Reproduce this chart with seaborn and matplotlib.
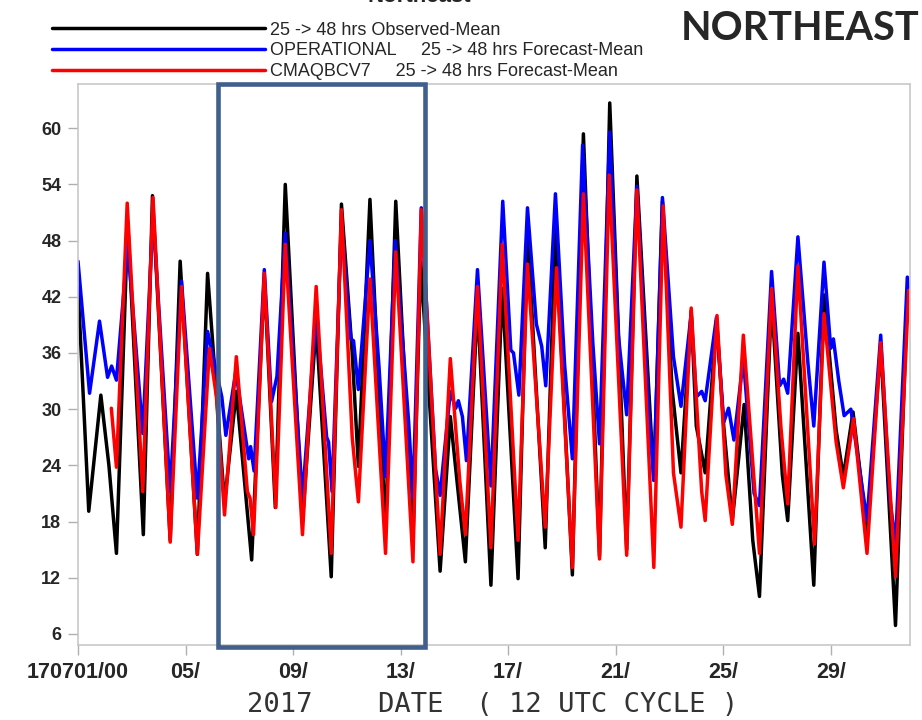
import matplotlib
matplotlib.use("Agg")
import matplotlib.pyplot as plt
from matplotlib.patches import Rectangle
import seaborn as sns

# days since 2017-07-01 00 UTC
obs_day = [0.0, 0.4, 0.85, 1.15, 1.43, 1.85, 2.43, 2.77, 3.43, 3.8, 4.44, 4.82, 5.45, 5.89,
           6.46, 6.93, 7.34, 7.71, 8.35, 8.86, 9.42, 9.8, 10.2, 10.43, 10.86, 11.44, 11.82,
           12.46, 12.75, 13.47, 13.85, 14.41, 14.86, 15.36, 15.78, 16.37, 16.72, 17.38, 17.76,
           18.39, 18.8, 19.4, 19.78, 20.41, 20.79, 21.42, 21.74, 22.1, 22.43, 22.81, 23.0,
           23.33, 23.75, 24.02, 24.34, 24.78, 25.1, 25.35, 25.8, 26.2, 26.4, 26.78, 27.37,
           27.75, 28.2, 28.47, 28.83, 29.35, 29.86, 30.41, 30.85, 30.93]
obs_val = [43.1, 19.1, 31.5, 24.0, 14.6, 49.9, 16.6, 52.8, 16.0, 45.8, 14.5, 44.5, 20.0, 31.9,
           13.9, 44.0, 19.5, 54.0, 18.0, 39.0, 12.1, 51.9, 36.0, 23.9, 52.4, 17.0, 52.2,
           16.0, 45.7, 12.7, 29.2, 13.7, 41.4, 11.2, 42.9, 11.9, 48.8, 15.2, 49.5,
           12.3, 59.4, 14.3, 62.7, 15.0, 54.9, 22.4, 52.2, 32.1, 23.2, 40.5, 28.2,
           23.2, 39.4, 28.2, 18.1, 30.5, 16.0, 10.0, 41.8, 23.0, 18.1, 38.1, 11.2,
           42.2, 27.8, 22.8, 29.7, 17.0, 36.7, 6.9, 42.0, 41.5]

oper_day = [0.0, 0.43, 0.8, 1.1, 1.25, 1.43, 1.85, 2.41, 2.79, 3.43, 3.85, 4.44, 4.82, 5.35,
            5.5, 5.87, 6.35, 6.42, 6.55, 6.93, 7.2, 7.4, 7.71, 8.35, 8.86, 9.25, 9.32, 9.45,
            9.8, 10.15, 10.25, 10.43, 10.86, 11.2, 11.44, 11.8, 12.3, 12.46, 12.77, 13.3,
            13.47, 13.85, 14.05, 14.15, 14.3, 14.45, 14.86, 15.36, 15.8, 16.1, 16.2, 16.4,
            16.72, 17.05, 17.25, 17.4, 17.76, 18.1, 18.39, 18.77, 19.15, 19.4, 19.78, 20.1,
            20.41, 20.79, 21.25, 21.42, 21.74, 22.15, 22.43, 22.81, 23.0, 23.2, 23.33, 23.75,
            24.02, 24.2, 24.4, 24.75, 25.15, 25.35, 25.8, 26.1, 26.25, 26.4, 26.78, 27.15,
            27.37, 27.75, 28.0, 28.1, 28.3, 28.5, 28.75, 29.35, 29.86, 30.2, 30.41, 30.85, 30.95]
oper_val = [45.8, 31.7, 39.4, 33.4, 34.6, 33.1, 47.6, 27.4, 50.9, 21.2, 43.7, 20.5, 38.3, 31.3,
            27.2, 34.0, 24.7, 26.0, 23.4, 44.9, 30.8, 33.5, 48.8, 20.5, 40.2, 27.0, 26.5, 21.2,
            50.0, 37.5, 37.3, 32.1, 48.0, 34.4, 22.8, 48.0, 28.6, 20.5, 51.5, 23.6,
            20.8, 31.9, 30.1, 30.9, 29.2, 24.5, 44.9, 21.8, 52.2, 36.3, 36.0, 31.5,
            51.5, 39.1, 36.7, 32.5, 53.0, 34.8, 24.7, 58.2, 37.1, 26.3, 59.6, 37.9,
            29.4, 53.8, 29.0, 22.4, 52.6, 35.6, 30.3, 40.2, 31.3, 31.9, 30.9, 39.8,
            28.6, 30.1, 26.7, 35.4, 21.0, 19.7, 44.7, 32.5, 33.2, 31.7, 48.4, 35.0,
            28.2, 45.7, 36.5, 37.5, 33.0, 29.3, 30.0, 18.1, 37.9, 20.5, 15.5, 44.1, 41.4]

cmaq_day = [1.24, 1.43, 1.83, 2.41, 2.79, 3.43, 3.85, 4.44, 4.89, 5.15, 5.45, 5.89, 6.3, 6.4,
            6.53, 6.93, 7.36, 7.71, 8.35, 8.86, 9.42, 9.8, 10.2, 10.43, 10.86, 11.44, 11.82,
            12.46, 12.77, 13.47, 13.85, 14.2, 14.41, 14.86, 15.36, 15.78, 16.37, 16.72, 17.38,
            17.8, 18.39, 18.8, 19.4, 19.76, 20.41, 20.79, 21.42, 21.77, 22.15, 22.43, 22.81,
            23.2, 23.33, 23.77, 24.1, 24.34, 24.75, 25.35, 25.8, 26.15, 26.4, 26.78, 27.4,
            27.75, 28.2, 28.47, 28.85, 29.35, 29.86, 30.41, 30.9, 30.95]
cmaq_val = [30.1, 23.8, 52.0, 21.2, 52.6, 15.8, 43.1, 14.5, 36.5, 31.3, 18.7, 35.6, 21.2, 20.5,
            16.6, 44.5, 19.5, 47.6, 16.6, 43.1, 14.6, 51.3, 27.0, 20.1, 43.9, 14.6, 46.8,
            13.7, 51.3, 14.5, 35.4, 22.4, 16.6, 43.1, 15.2, 47.6, 16.0, 45.5, 17.4,
            45.1, 13.1, 53.0, 14.0, 55.0, 14.4, 53.4, 13.1, 51.7, 23.2, 17.4, 40.8,
            21.2, 18.1, 40.0, 23.0, 17.7, 37.9, 14.6, 42.9, 28.0, 19.9, 45.3, 15.6,
            40.2, 26.5, 21.6, 29.0, 14.6, 37.1, 12.1, 42.7, 41.8]

tick_days = [0, 4, 8, 12, 16, 20, 24, 28]
tick_labels = ["170701/00", "05/", "09/", "13/", "17/", "21/", "25/", "29/"]
y_ticks = [6, 12, 18, 24, 30, 36, 42, 48, 54, 60]

sns.set_style("white")
sans = ["Liberation Sans", "DejaVu Sans"]

fig = plt.figure(figsize=(9.22, 7.2), dpi=100)
ax = fig.add_axes([0.0846, 0.104, 0.9024, 0.779])

line_kw = dict(lw=2.5, solid_joinstyle="round", solid_capstyle="round", ax=ax)
sns.lineplot(x=obs_day, y=obs_val, color="black",
             label="25 -> 48 hrs Observed-Mean", **line_kw)
sns.lineplot(x=oper_day, y=oper_val, color="#0000ff",
             label="OPERATIONAL     25 -> 48 hrs Forecast-Mean", **line_kw)
sns.lineplot(x=cmaq_day, y=cmaq_val, color="#ff0000",
             label="CMAQBCV7     25 -> 48 hrs Forecast-Mean", **line_kw)

ax.set_xlim(0, 30.95)
ax.set_ylim(4.8, 64.7)
ax.set_yticks(y_ticks)
ax.set_yticklabels([str(v) for v in y_ticks], fontsize=13, fontweight="bold", family=sans)
ax.set_xticks(tick_days)
ax.set_xticklabels(tick_labels, fontsize=15.5, fontweight="bold", family=sans)
ax.tick_params(axis="both", direction="out", length=7, width=1, color="#b0b0b0",
               bottom=True, left=True, pad=5)
for sp in ax.spines.values():
    sp.set_color("#c8c8c8")
    sp.set_linewidth(1.2)
ax.set_xlabel("")
ax.set_ylabel("")

handles, labels = ax.get_legend_handles_labels()
ax.get_legend().remove()
fig.legend(handles, labels, loc="upper left", bbox_to_anchor=(0.056, 0.97),
           frameon=False, handlelength=11.8, handletextpad=0.28, labelspacing=0.2,
           borderpad=0, borderaxespad=0, prop={"family": sans, "size": 13})

fig.text(0.868, 0.96, "NORTHEAST", ha="center", va="center", fontsize=28.5,
         fontweight="bold", family=["Lato", "DejaVu Sans"])
fig.text(0.455, 0.9975, "Northeast", ha="center", va="baseline", fontsize=16,
         fontweight="bold", family=sans)
fig.text(0.534, 0.011, "2017    DATE  ( 12 UTC CYCLE )", ha="center", va="baseline",
         fontsize=19.5, family="DejaVu Sans Mono", color="#333333")

# highlight box drawn over the plot
fig.add_artist(Rectangle((0.236, 0.101), 0.225, 0.783, transform=fig.transFigure,
                         fill=False, edgecolor="#3f5f8c", lw=3.3, zorder=10))

fig.savefig("out.png", dpi=100)
